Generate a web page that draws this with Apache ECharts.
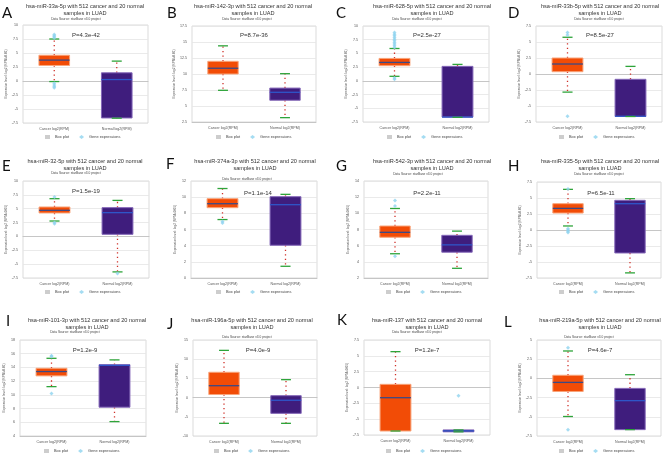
<!DOCTYPE html>
<html><head><meta charset="utf-8">
<script src="https://cdn.jsdelivr.net/npm/echarts@6/dist/echarts.min.js"></script>
<style>html,body{margin:0;padding:0;background:#fff}#c{width:669px;height:463px}</style>
</head><body><div id="c"></div>
<script>
// ---------------- DATA ----------------
const panelLetters = ['A','B','C','D','E','F','G','H','I','J','K','L'];
const mirNames = ['hsa-miR-33a-5p','hsa-miR-142-3p','hsa-miR-628-5p','hsa-miR-33b-5p',
  'hsa-miR-32-5p','hsa-miR-374a-3p','hsa-miR-542-3p','hsa-miR-335-5p',
  'hsa-miR-101-3p','hsa-miR-196a-5p','hsa-miR-137','hsa-miR-219a-5p'];
const pValues = ['P=4.3e-42','P=8.7e-36','P=2.5e-27','P=8.5e-27','P=1.5e-19','P=1.1e-14',
  'P=2.2e-11','P=6.5e-11','P=1.2e-9','P=4.0e-9','P=1.2e-7','P=4.6e-7'];
const categories = ['Cancer log2(RPM)','Normal log2(RPM)'];
const yMin  = [-7.5, 2.5, -7.5, -7.5, -7.5, 0, 2, -7.5, 4, -10, -7.5, -7.5];
const yMax  = [10, 17.5, 10, 7.5, 10, 12, 14, 7.5, 18, 15, 7.5, 5];
const yStep = [2.5, 2.5, 2.5, 2.5, 2.5, 2, 2, 2.5, 2, 5, 2.5, 2.5];
// [lower whisker, Q1, median, Q3, upper whisker]
const cancerBox = [
  [-0.1, 2.77, 3.73, 4.6, 7.5],
  [7.45, 10.0, 10.9, 11.98, 14.4],
  [0.83, 2.76, 3.36, 4.09, 5.9],
  [-2.83, 0.36, 1.56, 2.5, 5.74],
  [2.78, 4.23, 4.71, 5.31, 6.81],
  [7.23, 8.7, 9.19, 9.81, 11.07],
  [5.0, 7.04, 7.65, 8.43, 10.6],
  [0.63, 2.65, 3.38, 4.11, 6.35],
  [11.2, 12.77, 13.4, 13.88, 15.33],
  [-6.7, 0.8, 3.1, 6.6, 12.3],
  [-6.87, -6.87, -1.61, 0.5, 5.66],
  [-4.96, -1.7, -0.52, 0.41, 3.57]
];
const normalBox = [
  [-6.64, -6.6, 0.26, 1.46, 3.55],
  [3.18, 5.9, 7.14, 7.8, 10.05],
  [-6.64, -6.6, -6.6, 2.64, 3.0],
  [-6.64, -6.64, -6.6, -0.83, 1.19],
  [-6.4, 0.38, 4.29, 5.19, 6.5],
  [1.45, 4.05, 9.07, 10.06, 10.35],
  [3.2, 5.19, 6.1, 7.28, 7.8],
  [-6.7, -3.59, 4.11, 4.64, 4.9],
  [6.1, 8.2, 14.3, 14.4, 15.1],
  [-6.7, -4.1, -0.7, 0.5, 4.67],
  [-7.0, -7.0, -6.85, -6.7, -6.7],
  [-6.67, -6.67, -2.9, -1.3, 0.48]
];
const cancerOutliers = [
  [7.7, 7.9, 8.1, 8.3, -0.4, -0.7, -1.0, -1.2],
  [],
  [6.1, 6.4, 6.7, 7.0, 7.3, 7.6, 7.9, 8.2, 8.5, 8.8, 0.5, 0.3],
  [6.5, 6.1, -6.6],
  [7.1, 2.3, 2.5],
  [7.0, 6.8],
  [11.6, 10.9, 4.7],
  [6.4, 0.2, 0.0, -0.2, -0.4],
  [15.6, 15.7, 10.2],
  [],
  [],
  [4.0, -6.7]
];
const normalOutliers = [[],[],[],[],[-6.7],[],[],[],[],[],[-1.3],[]];

// ---------------- LAYOUT ----------------
const layout = [
  {grid:[23,25,125,98],  letter:[2,13],   title:[85,6],    ds:[76,19],   p:[86,35],   legend:[45,135]},
  {grid:[192,26,124,96], letter:[167,13], title:[253,6],   ds:[247,19],  p:[254,35],  legend:[216,135]},
  {grid:[363,26,126,96], letter:[336,13], title:[432,6],   ds:[417,19],  p:[427,35],  legend:[387,135]},
  {grid:[536,26,126,96], letter:[508,13], title:[600,6],   ds:[599,19],  p:[600,35],  legend:[559,135]},
  {grid:[23,181,126,97], letter:[2,166],  title:[85,161],  ds:[76,173],  p:[86,191],  legend:[45,290]},
  {grid:[191,181,126,97],letter:[166,164],title:[255,161], ds:[247,179], p:[258,193], legend:[216,290]},
  {grid:[364,181,124,97],letter:[336,166],title:[432,161], ds:[418,174], p:[427,193], legend:[386,290]},
  {grid:[537,182,124,96],letter:[508,166],title:[600,161], ds:[599,174], p:[601,193], legend:[559,290]},
  {grid:[20,340,126,96], letter:[6,321],  title:[87,320],  ds:[75,332],  p:[85,350],  legend:[44,449]},
  {grid:[193,340,124,96],letter:[167,324],title:[252,320], ds:[247,337], p:[258,350], legend:[214,449]},
  {grid:[364,340,126,95],letter:[337,320],title:[427,320], ds:[417,332], p:[427,350], legend:[386,449]},
  {grid:[537,340,124,96],letter:[504,322],title:[600,320], ds:[589,337], p:[600,350], legend:[559,449]}
];

// ---------------- CHART ----------------
const FONT = '"Liberation Sans", Arial, sans-serif';
function renderBox(params, api) {
  const c = api.value(0);
  const pMin = api.coord([c, api.value(1)]);
  const pQ1 = api.coord([c, api.value(2)]);
  const pMed = api.coord([c, api.value(3)]);
  const pQ3 = api.coord([c, api.value(4)]);
  const pMax = api.coord([c, api.value(5)]);
  const band = api.size([1, 0])[0];
  const bw = band * 0.49, cw = band * 0.16;
  const x = pMed[0];
  const fill = c === 0 ? '#f24c06' : '#3f1d7d';
  const edge = c === 0 ? '#f8a47a' : '#8467b8';
  const med = c === 0 ? '#3b4a86' : '#2f56c8';
  const dot = {stroke:'#cf3028', lineWidth:1.3, lineDash:[1.3,3.2]};
  const h = Math.max(pQ1[1] - pQ3[1], 1.5);
  return {type:'group', children:[
    {type:'line', shape:{x1:x,y1:pQ3[1],x2:x,y2:pMax[1]}, style:dot},
    {type:'line', shape:{x1:x,y1:pQ1[1],x2:x,y2:pMin[1]}, style:dot},
    {type:'rect', shape:{x:x-bw/2, y:pQ3[1], width:bw, height:h}, style:{fill:fill, stroke:edge, lineWidth:1}},
    {type:'line', shape:{x1:x-bw/2,y1:pMed[1],x2:x+bw/2,y2:pMed[1]}, style:{stroke:med, lineWidth:1.3}},
    {type:'line', shape:{x1:x-cw/2,y1:pMax[1],x2:x+cw/2,y2:pMax[1]}, style:{stroke:'#2ea43a', lineWidth:1.3}},
    {type:'line', shape:{x1:x-cw/2,y1:pMin[1],x2:x+cw/2,y2:pMin[1]}, style:{stroke:'#2ea43a', lineWidth:1.3}}
  ]};
}

const grid = [], xAxis = [], yAxis = [], series = [], legend = [], graphic = [];
layout.forEach((L, i) => {
  grid.push({left:L.grid[0], top:L.grid[1], width:L.grid[2], height:L.grid[3], show:true,
    borderColor:'#d2d2d2', borderWidth:0.8});
  xAxis.push({type:'category', gridIndex:i, data:categories,
    axisTick:{show:false}, axisLine:{lineStyle:{color:'#bdbdbd', width:0.8}},
    axisLabel:{fontSize:3.6, color:'#555', margin:4, fontFamily:FONT}});
  yAxis.push({type:'value', gridIndex:i, min:yMin[i], max:yMax[i], interval:yStep[i],
    axisLine:{show:false}, axisTick:{show:false},
    axisLabel:{fontSize:3.6, color:'#555', margin:5, fontFamily:FONT},
    splitLine:{lineStyle:{color:'#e4e4e4', width:0.8}},
    name:'Expression level: log2 (RPM+0.01)', nameLocation:'middle', nameGap:14,
    nameTextStyle:{fontSize:3.2, color:'#555', fontFamily:FONT}});
  series.push({type:'custom', name:'Box plot', xAxisIndex:i, yAxisIndex:i,
    data:[[0].concat(cancerBox[i]), [1].concat(normalBox[i])],
    encode:{x:0, y:[1,2,3,4,5]}, renderItem:renderBox, z:2, silent:true});
  series.push({type:'scatter', name:'Gene expressions', xAxisIndex:i, yAxisIndex:i,
    data: cancerOutliers[i].map(v => [0, v]).concat(normalOutliers[i].map(v => [1, v])),
    symbol:'diamond', symbolSize:4, itemStyle:{color:'#8fd3ef'}, z:3, silent:true});
  legend.push({left:L.legend[0], top:L.legend[1], itemWidth:5, itemHeight:4, itemGap:10, padding:0,
    selectedMode:false, textStyle:{fontSize:3.9, color:'#444', fontFamily:FONT},
    data:[{name:'Box plot', icon:'rect', itemStyle:{color:'#cdcdcd'}},
          {name:'Gene expressions', icon:'diamond', itemStyle:{color:'#8fd3ef'}}]});
  graphic.push({type:'text', x:L.letter[0], y:L.letter[1], style:{text:panelLetters[i],
    font:'15px Lato, "Open Sans", sans-serif', fill:'#111', verticalAlign:'middle', align:'left'}});
  graphic.push({type:'text', x:L.title[0], y:L.title[1], style:{text:mirNames[i] + ' with 512 cancer and 20 normal\nsamples in LUAD',
    font:'5.6px ' + FONT, lineHeight:7, fill:'#333', align:'center', verticalAlign:'middle'}});
  graphic.push({type:'text', x:L.ds[0], y:L.ds[1], style:{text:'Data Source: starBase v3.0 project',
    font:'3.2px ' + FONT, fill:'#444', align:'center', verticalAlign:'middle'}});
  graphic.push({type:'text', x:L.p[0], y:L.p[1], style:{text:pValues[i],
    font:'6px ' + FONT, fill:'#333', align:'center', verticalAlign:'middle'}});
});
// title y for two-line text: first line center at title y
graphic.forEach(g => { if (g.style.lineHeight) g.y = g.y + 3.5; });

const chart = echarts.init(document.getElementById('c'), null, {renderer:'canvas'});
chart.setOption({backgroundColor:'#fff', animation:false, grid, xAxis, yAxis, series, legend, graphic});
</script></body></html>
